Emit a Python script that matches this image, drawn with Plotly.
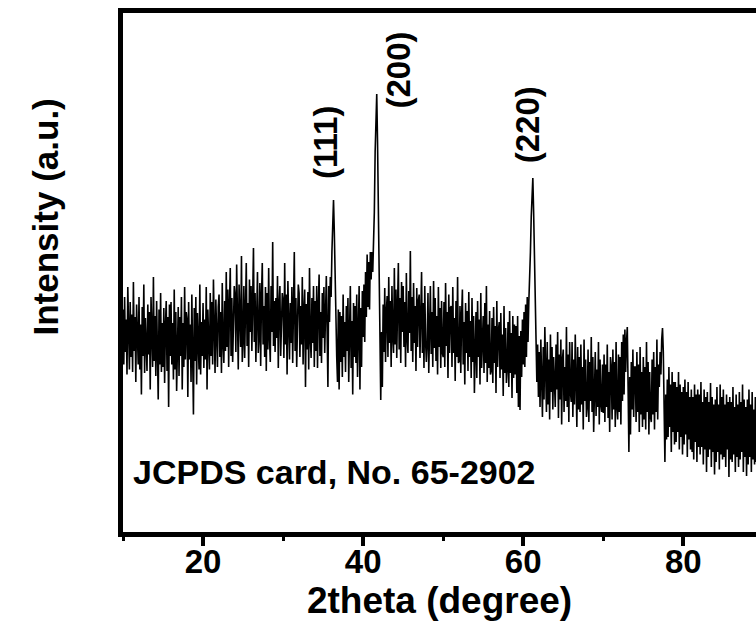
import numpy as np
import plotly.graph_objects as go

# XRD scan: 2theta grid (start, step) and measured intensity (counts)
scan_start = 10.0
scan_step = 0.1
intensity = [
    445, 335, 470, 360, 425, 315, 490, 370, 325, 460,
    350, 435, 320, 500, 362, 430, 300, 455, 378, 335,
    470, 325, 415, 275, 450, 352, 495, 318, 428, 345,
    322, 455, 355, 440, 285, 470, 368, 330, 510, 342,
    432, 312, 462, 350, 265, 445, 335, 478, 320, 418,
    330, 448, 298, 410, 462, 322, 430, 250, 455, 352,
    460, 335, 418, 305, 485, 325, 440, 282, 410, 450,
    312, 430, 352, 470, 285, 418, 330, 490, 345, 440,
    425, 270, 460, 345, 415, 300, 475, 360, 235, 448,
    342, 470, 295, 438, 368, 325, 495, 315, 420, 352,
    458, 328, 425, 345, 490, 285, 445, 362, 325, 478,
    352, 460, 335, 505, 372, 318, 465, 390, 330, 450,
    475, 350, 440, 318, 498, 378, 338, 462, 362, 520,
    370, 485, 330, 452, 528, 352, 468, 340, 442, 492,
    472, 360, 535, 380, 325, 495, 440, 370, 552, 340,
    385, 492, 348, 470, 538, 372, 458, 330, 505, 400,
    492, 362, 462, 568, 380, 478, 340, 450, 520, 358,
    390, 498, 332, 470, 538, 375, 452, 350, 490, 322,
    478, 365, 528, 390, 340, 492, 400, 580, 372, 462,
    360, 468, 388, 512, 328, 455, 492, 352, 448, 478,
    462, 348, 538, 375, 475, 315, 502, 388, 345, 458,
    378, 490, 338, 450, 560, 362, 468, 330, 392, 495,
    478, 350, 452, 375, 510, 335, 442, 485, 290, 456,
    365, 480, 325, 528, 388, 348, 468, 378, 492, 330,
    462, 362, 492, 328, 450, 515, 352, 440, 338, 478,
    388, 490, 358, 462, 512, 400, 290, 492, 420, 510,
    470, 560, 640, 664, 600, 480, 390, 350, 300, 445,
    285, 440, 340, 432, 310, 475, 350, 420, 320, 452,
    362, 468, 300, 440, 492, 328, 422, 275, 458, 350,
    452, 338, 475, 310, 432, 492, 285, 448, 330, 482,
    390, 495, 380, 520, 430, 555, 450, 540, 445, 560,
    505, 560, 520, 580, 640, 760, 800, 876, 780, 620,
    480, 380, 264, 400, 290, 455, 360, 488, 340, 440,
    472, 350, 510, 378, 462, 330, 492, 390, 358, 528,
    375, 485, 348, 452, 538, 365, 468, 338, 500, 400,
    492, 370, 460, 330, 518, 388, 358, 482, 398, 562,
    362, 470, 340, 498, 378, 452, 322, 488, 370, 462,
    475, 348, 442, 520, 358, 458, 328, 492, 382, 340,
    378, 478, 318, 452, 492, 356, 440, 330, 502, 368,
    468, 342, 432, 315, 490, 370, 448, 328, 462, 358,
    350, 460, 330, 498, 372, 440, 308, 475, 358, 448,
    452, 330, 490, 358, 428, 302, 462, 350, 510, 338,
    342, 452, 318, 432, 485, 335, 420, 295, 458, 358,
    442, 322, 480, 350, 422, 308, 468, 340, 432, 278,
    334, 440, 308, 462, 350, 425, 295, 478, 328, 418,
    432, 318, 458, 338, 492, 300, 415, 328, 442, 315,
    322, 428, 298, 450, 338, 412, 278, 462, 330, 402,
    420, 308, 438, 325, 395, 272, 452, 318, 408, 298,
    328, 420, 290, 442, 318, 398, 268, 432, 308, 415,
    315, 412, 278, 432, 250, 392, 244, 402, 310, 425,
    335, 440, 330, 455, 350, 470, 380, 460, 500, 560,
    630, 690, 708, 640, 540, 430, 350, 300, 375, 270,
    360, 250, 385, 280, 230, 370, 265, 410, 300, 240,
    380, 255, 345, 225, 395, 280, 370, 245, 350, 260,
    250, 375, 285, 400, 228, 355, 265, 385, 215, 345,
    365, 240, 330, 262, 410, 250, 355, 220, 380, 280,
    260, 380, 230, 345, 255, 395, 285, 210, 370, 245,
    350, 240, 375, 255, 330, 205, 385, 262, 345, 230,
    250, 365, 220, 340, 262, 390, 240, 350, 200, 330,
    360, 232, 325, 250, 380, 215, 345, 255, 240, 335,
    238, 355, 220, 335, 250, 375, 228, 320, 200, 350,
    330, 225, 365, 245, 340, 210, 380, 250, 225, 355,
    240, 350, 215, 380, 262, 395, 275, 405, 320, 380,
    410, 290, 160, 310, 195, 340, 245, 365, 230, 330,
    330, 220, 360, 240, 335, 200, 370, 235, 320, 210,
    350, 225, 330, 205, 380, 240, 340, 195, 320, 230,
    220, 345, 235, 360, 205, 330, 240, 385, 225, 335,
    290, 360, 315, 385, 408, 360, 280, 140, 275, 185,
    305, 190, 330, 210, 295, 160, 320, 200, 300, 175,
    300, 180, 290, 200, 320, 165, 295, 190, 280, 155,
    290, 175, 305, 195, 280, 150, 300, 185, 270, 165,
    285, 160, 270, 145, 295, 180, 275, 140, 285, 170,
    275, 155, 300, 170, 260, 135, 285, 165, 270, 120,
    280, 150, 260, 165, 298, 130, 270, 160, 255, 115,
    265, 140, 290, 160, 255, 125, 295, 155, 270, 145,
    285, 150, 255, 130, 275, 165, 260, 110, 270, 145,
    260, 140, 290, 155, 250, 120, 275, 150, 255, 130,
    280, 145, 260, 160, 295, 120, 265, 150, 250, 112,
    265, 135, 285, 150, 255, 120, 280, 145, 245, 135,
    270, 140, 260,
]
two_theta = scan_start + scan_step * np.arange(len(intensity))

# Miller indices of the indexed reflections
peak_labels = ["(111)", "(200)", "(220)"]
card_text = "JCPDS card, No. 65-2902"

FONT = "Liberation Sans, Arial, sans-serif"

fig = go.Figure(
    go.Scatter(
        x=two_theta,
        y=intensity,
        mode="lines",
        line=dict(color="black", width=1.6),
        hoverinfo="skip",
    )
)

# label anchors (2theta, counts) for the Miller indices
label_anchor = [(35.3, 779), (44.3, 924), (60.5, 814)]
annotations = [
    dict(
        x=ax, y=ay, xref="x", yref="y", text=txt, textangle=-90,
        showarrow=False, xanchor="center", yanchor="middle",
        font=dict(family=FONT, size=33, color="black", weight="bold"),
    )
    for txt, (ax, ay) in zip(peak_labels, label_anchor)
]
annotations.append(
    dict(
        x=11.0, y=120, xref="x", yref="y", text=card_text,
        showarrow=False, xanchor="left", yanchor="middle",
        font=dict(family=FONT, size=34, color="black", weight="bold"),
    )
)
annotations.append(
    dict(
        x=0, y=0.606, xref="paper", yref="paper", xshift=-78,
        text="Intensity (a.u.)", textangle=-90, showarrow=False,
        xanchor="center", yanchor="middle",
        font=dict(family=FONT, size=35, color="black", weight="bold"),
    )
)

fig.update_layout(
    width=756,
    height=632,
    margin=dict(l=123, r=0, t=13, b=100),
    paper_bgcolor="white",
    plot_bgcolor="white",
    showlegend=False,
    annotations=annotations,
    xaxis=dict(
        range=[10, 89.08],
        showline=True, linewidth=5, linecolor="black", mirror=True,
        ticks="outside", ticklen=9, tickwidth=4, tickcolor="black",
        tick0=0, dtick=20,
        minor=dict(ticks="outside", ticklen=4, tickwidth=3,
                   tickcolor="black", tick0=0, dtick=10),
        showgrid=False, zeroline=False,
        ticklabelstandoff=-13,
        tickfont=dict(family=FONT, size=33, color="black", weight="bold"),
        title=dict(text="2theta (degree)", standoff=4,
                   font=dict(family=FONT, size=37, color="black", weight="bold")),
    ),
    yaxis=dict(
        range=[0, 1038],
        showline=True, linewidth=5, linecolor="black", mirror=False,
        ticks="", showticklabels=False,
        showgrid=False, zeroline=False,
    ),
)

fig.write_html("out.html")
